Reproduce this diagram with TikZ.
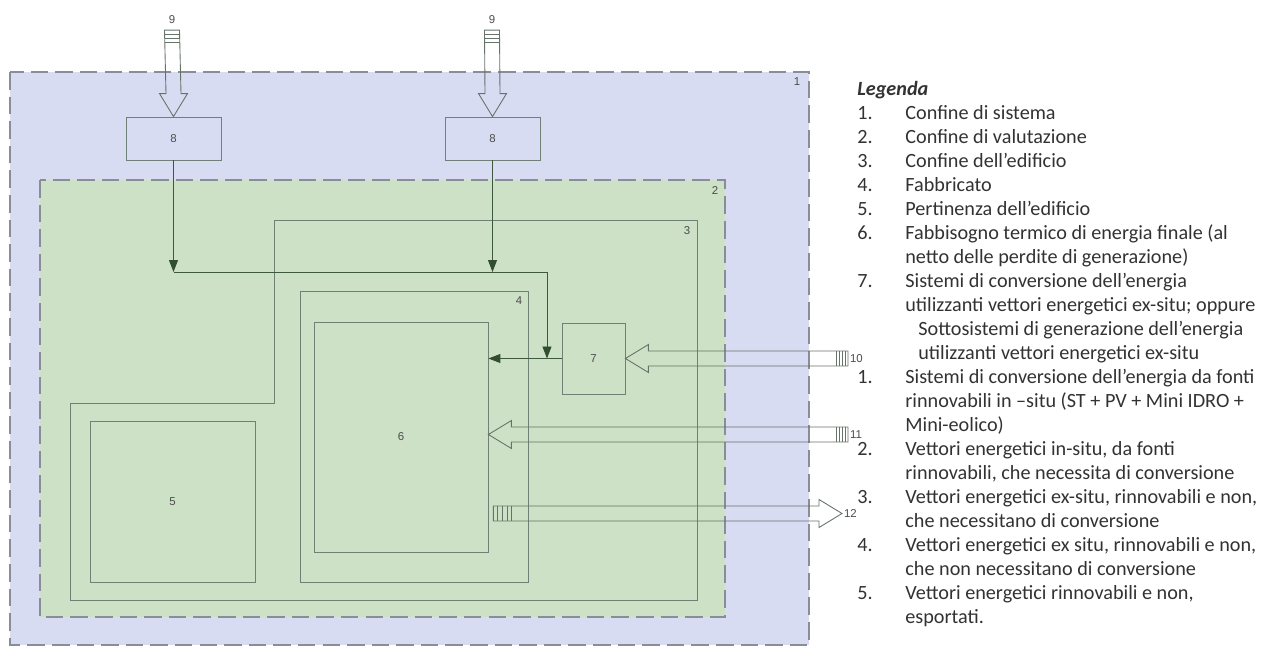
\documentclass[tikz,border=0pt]{standalone}
\usepackage{fontspec}
\setmainfont{Carlito}
\setsansfont{Liberation Sans}
\usetikzlibrary{arrows.meta,calc,positioning}
\definecolor{sysblue}{RGB}{216,220,242}
\definecolor{evalgreen}{RGB}{204,225,198}
\definecolor{edge}{RGB}{112,128,116}
\definecolor{dashgray}{RGB}{138,140,152}
\definecolor{tipgreen}{RGB}{50,78,50}
\definecolor{legtext}{RGB}{50,50,50}
\newcommand{\comma}{,}
\newcommand{\lbl}{\sffamily\fontsize{6.5}{7.5}\selectfont}
% hollow block arrows, #1 = tip, #2 = tail
\newcommand{\leftblk}[2]{%
  \draw[blk] (#1) -- ++(23,-14) -- ++(0,6.5) -- ($(#2)+(0,-7.5)$) -- ++(0,15) -- ($(#1)+(23,7.5)$) -- ++(0,6.5) -- cycle;
  \foreach \s in {3,6,9,12} \draw[blk] ($(#2)+(-\s,-7.5)$) -- ++(0,15);}
\newcommand{\rightblk}[2]{%
  \draw[blk] (#1) -- ++(-23,-14) -- ++(0,6.5) -- ($(#2)+(0,-7.5)$) -- ++(0,15) -- ($(#1)+(-23,7.5)$) -- ++(0,6.5) -- cycle;
  \foreach \s in {4,9,14,18} \draw[blk] ($(#2)+(\s,-7.5)$) -- ++(0,15);}
\newcommand{\downblk}[2]{%
  \draw[blk] (#1) -- ++(-14,-23) -- ++(6.5,0) -- ($(#2)+(-7.5,0)$) -- ++(15,0) -- ($(#1)+(7.5,-23)$) -- ++(6.5,0) -- cycle;
  \foreach \s in {4,8,12} \draw[blk] ($(#2)+(-7.5,\s)$) -- ++(15,0);}

\begin{document}
\begin{tikzpicture}[x=0.02cm,y=-0.02cm,
    box/.style={draw=edge,line width=0.5pt,inner sep=0pt,font=\lbl,text=black!70},
    boundary/.style={draw=dashgray,line width=0.8pt,dash pattern=on 10pt off 4pt},
    flow/.style={draw=tipgreen!80!edge,line width=0.5pt,-{Triangle[length=2.4mm,width=1.8mm,fill=tipgreen,color=tipgreen]}},
    blk/.style={draw=edge!90!black,line width=0.5pt},
    num/.style={font=\lbl,text=black!70,inner sep=1pt},
    leg/.style={anchor=west,inner sep=0pt,text=legtext,font=\fontsize{11.5}{14}\selectfont,text height=1.5ex,text depth=.35ex}]
  \useasboundingbox (0,0) rectangle (1282,646);
  % boundaries 1 and 2
  \fill[sysblue] (10,72) rectangle (809,645);
  \draw[boundary] (10,72) rectangle (809,645);
  \fill[evalgreen] (40,180) rectangle (725,617);
  \draw[boundary] (40,180) rectangle (725,617);
  \node[num] (lab1) at (797,82) {1};
  \node[num] (lab2) at (715,191) {2};
  % building boundary 3
  \draw[edge,line width=0.5pt] (274,220) -- (697,220) -- (697,600) -- (70,600) -- (70,403) -- (274,403) -- cycle;
  \node[num] (lab3) at (687,231) {3};
  % boxes
  \node[box,minimum width=4.56cm,minimum height=5.82cm] (b4) at (414,436.5) {};
  \node[num] (lab4) at (519,301) {4};
  \node[box,minimum width=3.48cm,minimum height=4.6cm] (b6) at (401,437) {6};
  \node[box,minimum width=3.3cm,minimum height=3.22cm] (b5) at (172.5,501.5) {5};
  \node[box,minimum width=1.26cm,minimum height=1.42cm] (b7) at (593.5,358.5) {7};
  \node[box,minimum width=1.9cm,minimum height=0.86cm] (b8a) at (173.5,138.5) {8};
  \node[box,minimum width=1.9cm,minimum height=0.86cm] (b8b) at (492.5,138.5) {8};
  % arrow labels
  \node[num] (l9a) at (172,20) {9};
  \node[num] (l9b) at (492,20) {9};
  \node[num,anchor=west] (l10) at (848,358.5) {10};
  \node[num,anchor=west] (l11) at (848,434.5) {11};
  \node[num,anchor=west] (l12) at (842,513.5) {12};
  % connectors
  \coordinate (bus) at (547,272);
  \draw[flow] (b8a.south) -- (b8a.south |- bus);
  \draw[flow] (b8b.south) -- (b8b.south |- bus);
  \draw[flow] (b8a.south |- bus) -- (bus) -- (bus |- b7.west);
  \draw[flow] (b7.west) -- (b6.east |- b7.west);
  % energy carriers
  \downblk{b8a.north}{$(l9a.south)+(0,4)$}
  \downblk{b8b.north}{$(l9b.south)+(0,4)$}
  \leftblk{b7.east}{l10.west}
  \leftblk{b6.east |- l11}{l11.west}
  \rightblk{l12.west}{$(b6.east |- l12)+(5,0)$}
  % legend
  \node[leg,font=\fontsize{11.5}{14}\selectfont\bfseries\itshape] (legtitle) at (857,91) {Legenda};
  \foreach \k/\n in {1/1.,2/2.,3/3.,4/4.,5/5.,6/6.,8/7.,12/1.,15/2.,17/3.,19/4.,21/5.}
    \node[leg] (num\k) at (857,{91+24*\k}) {\n};
  \foreach \k/\x/\t in {1/905/Confine di sistema,2/905/Confine di valutazione,3/905/Confine dell’edificio,
      4/905/Fabbricato,5/905/Pertinenza dell’edificio,6/905/Fabbisogno termico di energia finale (al,
      7/905/netto delle perdite di generazione),8/905/Sistemi di conversione dell’energia,
      9/905/utilizzanti vettori energetici ex-situ; oppure,10/918/Sottosistemi di generazione dell’energia,
      11/918/utilizzanti vettori energetici ex-situ,
      12/905/Sistemi di conversione dell’energia da fonti,13/905/rinnovabili in –situ (ST + PV + Mini IDRO +,
      14/905/Mini-eolico),15/905/Vettori energetici in-situ\comma{} da fonti,
      16/905/rinnovabili\comma{} che necessita di conversione,17/905/Vettori energetici ex-situ\comma{} rinnovabili e non\comma,
      18/905/che necessitano di conversione,19/905/Vettori energetici ex situ\comma{} rinnovabili e non\comma,
      20/905/che non necessitano di conversione,21/905/Vettori energetici rinnovabili e non\comma,22/905/esportati.}
    \node[leg] (txt\k) at (\x,{91+24*\k}) {\t};
\end{tikzpicture}
\end{document}
